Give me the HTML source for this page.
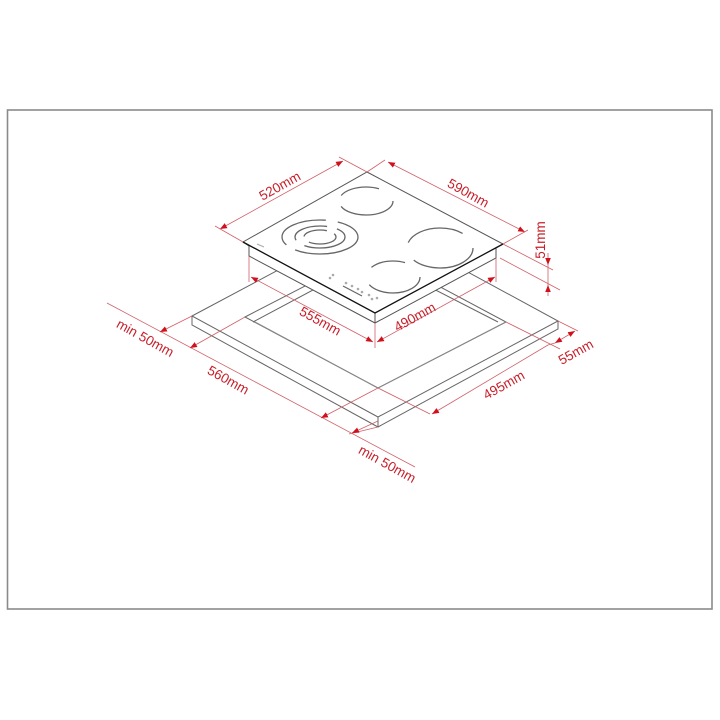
<!DOCTYPE html>
<html><head><meta charset="utf-8"><style>
html,body{margin:0;padding:0;background:#fff;}
svg{display:block}
text{font-family:"Liberation Sans",sans-serif;font-size:13.5px;fill:#c8202a}
</style></head><body>
<svg width="720" height="720" viewBox="0 0 720 720" xmlns="http://www.w3.org/2000/svg">
<defs>
<marker id="a" viewBox="0 0 10 10" refX="10" refY="5" markerWidth="7" markerHeight="7" orient="auto-start-reverse" markerUnits="userSpaceOnUse"><path d="M0,1 L10,5 L0,9z" fill="#d0101c"/></marker>
</defs>
<rect x="7.5" y="110" width="704.5" height="499" fill="none" stroke="#8a8a8a" stroke-width="1.6"/>

<g fill="none" stroke="#666" stroke-width="1">
<path d="M192,316 L372,220 L558,321 L378,417 Z" fill="#fff"/>
<path d="M192,316 L192,325 L378,427 L558,329 L558,321"/>
<path d="M378,417 L378,427"/>
<path d="M245,317 L373,251 L506,322 L378,388 Z"/>
<path d="M253,322 L373,258 L498,322"/>
<path d="M255,322 L378,388 L506,322" stroke="#888"/>
</g>

<g fill="none" stroke="#555" stroke-width="1">
<path d="M243,242 L367,172 L503,244 L375,313 Z" fill="#fff"/>
<path d="M243,242 L249,246 L249,256 L375,323 L496,258 L496,248 L503,244" fill="#fff"/>
<path d="M375,313 L375,323"/>
<path d="M243,242 L375,313 L503,244" stroke="#111" stroke-width="1.3"/>
</g>
<g fill="none" stroke="#666" stroke-width="1.3">
<ellipse cx="366" cy="201" rx="27" ry="14" stroke-dasharray="60 12 40 20"/>
<ellipse cx="320" cy="237" rx="38" ry="17" stroke-dasharray="70 10 60 12"/>
<ellipse cx="320" cy="237" rx="25" ry="11" stroke-dasharray="45 10 40 10"/>
<ellipse cx="320" cy="237" rx="16" ry="7" stroke-dasharray="30 8 25 8"/>
<ellipse cx="440" cy="248" rx="33" ry="20" stroke-dasharray="70 20 60 20"/>
<ellipse cx="393" cy="277" rx="27" ry="16" stroke-dasharray="60 20 35 40"/>
</g>
<g fill="#aaa">
<circle cx="333" cy="275" r="1.3"/><circle cx="330" cy="278" r="1.3"/>
<circle cx="346" cy="283" r="1.3"/><circle cx="352" cy="286" r="1.3"/><circle cx="358" cy="289" r="1.3"/><circle cx="362" cy="292" r="1.3"/>
<circle cx="369" cy="295" r="1.3"/><circle cx="372" cy="299" r="1.3"/><circle cx="377" cy="298" r="1.3"/>
</g>
<path d="M343,286 L362,296" stroke="#666" stroke-width="1.2"/>
<path d="M257,244 L264,247" stroke="#aaa" stroke-width="1"/>

<g stroke="#d06068" stroke-width="0.8" fill="none">
<path d="M220,229 L343,161" marker-start="url(#a)" marker-end="url(#a)"/>
<path d="M243,242 L215,226"/><path d="M367,172 L339,157"/>
<path d="M388,162 L525,232" marker-start="url(#a)" marker-end="url(#a)"/>
<path d="M367,172 L385,160"/><path d="M503,244 L528,230"/>
<path d="M503,244 L553,270"/><path d="M500,258 L560,290"/>
<path d="M548,253 L548,265" marker-end="url(#a)"/>
<path d="M548,296 L548,285" marker-end="url(#a)"/>
<path d="M548,265 L548,285"/>
<path d="M249,256 L249,282"/><path d="M496,258 L496,282"/><path d="M375,323 L375,348"/>
<path d="M251,277 L373,342" marker-start="url(#a)" marker-end="url(#a)"/>
<path d="M377,342 L495,277" marker-start="url(#a)" marker-end="url(#a)"/>
<path d="M107,303 L415,467"/>
<path d="M192,316 L160,332" marker-end="url(#a)"/>
<path d="M245,317 L190,348" marker-end="url(#a)"/>
<path d="M378,388 L321,418" marker-end="url(#a)"/>
<path d="M378,427 L349,434" />
<path d="M352,433 L378,421" marker-start="url(#a)"/>
<path d="M378,388 L430,414"/>
<path d="M432,414 L548,345" marker-start="url(#a)"/>
<path d="M506,322 L560,349"/>
<path d="M558,321 L578,331"/>
<path d="M555,343 L575,331" marker-start="url(#a)" marker-end="url(#a)"/>
<path d="M548,345 L555,343"/>
</g>

<text transform="translate(282,190) rotate(-29)" text-anchor="middle">520mm</text>
<text transform="translate(466,197) rotate(29)" text-anchor="middle">590mm</text>
<text transform="translate(545,240) rotate(-90)" text-anchor="middle">51mm</text>
<text transform="translate(318,325) rotate(29)" text-anchor="middle">555mm</text>
<text transform="translate(417,321) rotate(-29)" text-anchor="middle">490mm</text>
<text transform="translate(143,342) rotate(29)" text-anchor="middle">min 50mm</text>
<text transform="translate(226,384) rotate(29)" text-anchor="middle">560mm</text>
<text transform="translate(506,389) rotate(-29)" text-anchor="middle">495mm</text>
<text transform="translate(578,356) rotate(-29)" text-anchor="middle">55mm</text>
<text transform="translate(385,468) rotate(29)" text-anchor="middle">min 50mm</text>
</svg>
</body></html>
